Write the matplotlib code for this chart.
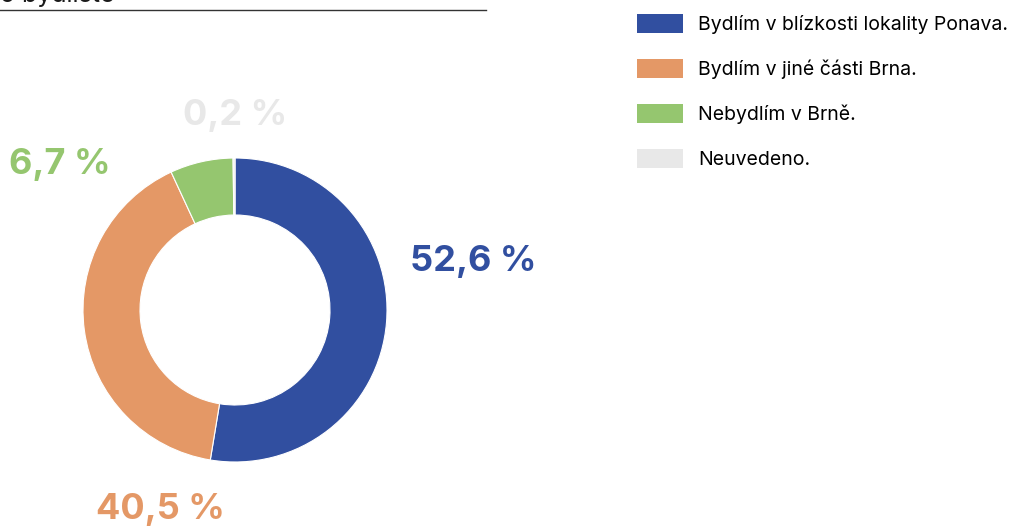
import matplotlib.pyplot as plt
from matplotlib.patches import Patch
from matplotlib.lines import Line2D

# Data
kategorie = ['Bydlím v blízkosti lokality Ponava.', 'Bydlím v jiné části Brna.',
             'Nebydlím v Brně.', 'Neuvedeno.']
podily = [52.6, 40.5, 6.7, 0.2]
popisky = ['52,6 %', '40,5 %', '6,7 %', '0,2 %']
barvy = ['#314FA0', '#E49866', '#95C66F', '#E8E8E8']

plt.rcParams['font.family'] = ['Inter', 'DejaVu Sans']

fig = plt.figure(figsize=(10.18, 5.29), dpi=100)

# Donut axes: center ~ (235, 310) px, radius ~152 px
W, H = 1018, 529
cx, cy, r = 235, 310, 152
ax = fig.add_axes([(cx - r) / W, (H - cy - r) / H, 2 * r / W, 2 * r / H])
ax.pie(podily, colors=barvy, startangle=90, counterclock=False, radius=1,
       wedgeprops=dict(width=0.375, edgecolor='white', linewidth=0.8))
ax.set_xlim(-1, 1)
ax.set_ylim(-1, 1)
ax.set_aspect('equal')
ax.axis('off')

# Popisky procent
pozice = [(1.57, 0.32), (-0.49, -1.31), (-1.15, 0.96), (0.0, 1.28)]
for (x, y), txt, c in zip(pozice, popisky, barvy):
    ax.text(x, y, txt, color=c, fontsize=26, fontweight='bold',
            ha='center', va='center', clip_on=False)

# Legenda
handles = [Patch(facecolor=c, edgecolor='none') for c in barvy]
fig.legend(handles, kategorie, loc='upper left', bbox_to_anchor=(629 / W, 1 - 6 / H),
           frameon=False, fontsize=14, handlelength=2.4, handleheight=1.15,
           handletextpad=0.75, labelspacing=1.27, borderaxespad=0)

# Useknutý nadpis nahoře
fig.text(0.0, 1 - 7 / H, 'o bydliště', fontsize=18, ha='left', va='bottom', color='#1a1a1a')
fig.add_artist(Line2D([0, 486 / W], [1 - 9.5 / H, 1 - 9.5 / H], color='#333333', linewidth=1))

plt.savefig('out.png', dpi=100)
